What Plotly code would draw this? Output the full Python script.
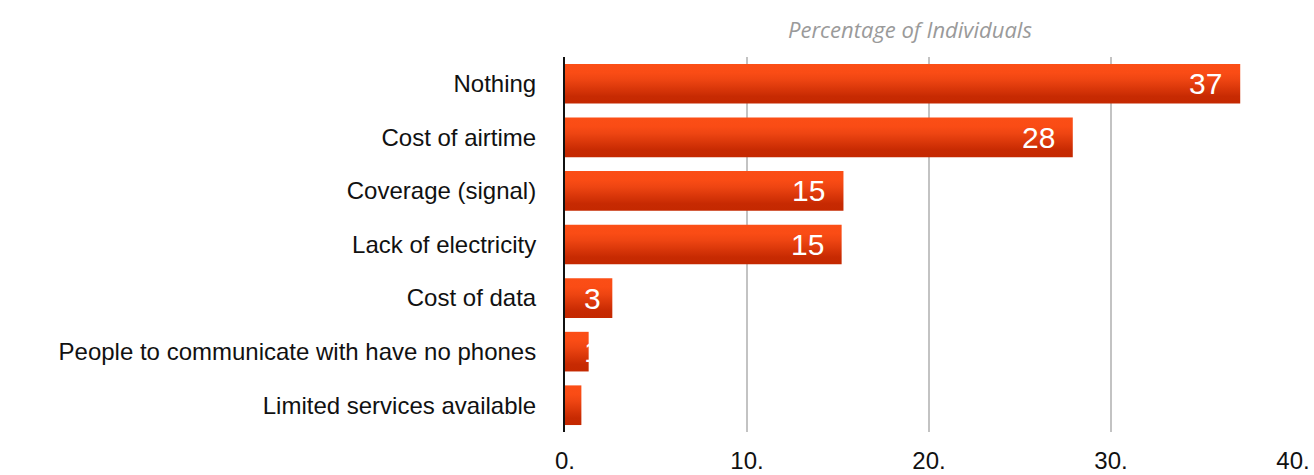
import plotly.graph_objects as go

# Survey: main barrier to using a mobile phone
categories = [
    "Nothing",
    "Cost of airtime",
    "Coverage (signal)",
    "Lack of electricity",
    "Cost of data",
    "People to communicate with have no phones",
    "Limited services available",
]
values = [37.1, 27.9, 15.3, 15.2, 2.6, 1.3, 0.9]
x_ticks = [0, 10, 20, 30, 40]
x_tick_labels = ["0.", "10.", "20.", "30.", "40."]
axis_title = "Percentage of Individuals"

n = len(categories)
half = 0.37  # half of the bar thickness, in category units
bar_scale = [[0.0, "#c42800"], [0.18, "#c72a02"], [0.6, "#ee4512"],
             [0.78, "#fa4c15"], [1.0, "#fb4e16"]]

W, H = 1314, 475
M_L, M_R, M_T, M_B = 565, 21, 57, 43

fig = go.Figure()
for i, (cat, v) in enumerate(zip(categories, values)):
    yc = n - 1 - i
    fig.add_trace(go.Scatter(
        x=[0, v, v, 0, 0],
        y=[yc - half, yc - half, yc + half, yc + half, yc - half],
        mode="lines",
        line=dict(width=0, color="rgba(0,0,0,0)"),
        fill="toself",
        fillgradient=dict(type="vertical", colorscale=bar_scale),
        hoverinfo="text",
        text=f"{cat}: {v:.0f}",
        showlegend=False,
    ))
    # value label inside the bar end; short bars keep it near the axis
    if v >= 4:
        ann = dict(x=v, xanchor="right", xshift=-16)
    else:
        ann = dict(x=0, xanchor="left", xshift=17)
    fig.add_annotation(
        y=yc, yanchor="middle", text=f"{v:.0f}", showarrow=False,
        font=dict(family="Liberation Sans, Arial", size=30, color="white"),
        **ann,
    )

# axis caption above the plot area, centred around x = 910 px
fig.add_annotation(
    x=(910 - M_L) / (W - M_L - M_R), xref="paper", y=1, yref="paper",
    yanchor="bottom", yshift=11,
    text=f"<i>{axis_title}</i>", showarrow=False,
    font=dict(family="Open Sans", size=22, color="#9a9a9a"),
)

fig.update_layout(
    width=W, height=H,
    margin=dict(l=M_L, r=M_R, t=M_T, b=M_B),
    paper_bgcolor="white", plot_bgcolor="white",
    font=dict(family="Liberation Sans, Arial", color="#111111"),
    xaxis=dict(
        range=[0, 40], tickvals=x_ticks, ticktext=x_tick_labels,
        showgrid=True, gridcolor="#c3c3c3", gridwidth=2,
        zeroline=False, showline=False, ticks="",
        ticklabelstandoff=12,
        tickfont=dict(size=24, color="#111111"),
        automargin=False, fixedrange=True,
    ),
    yaxis=dict(
        range=[-0.5, n - 0.5],
        tickvals=list(range(n)),
        ticktext=categories[::-1],
        showgrid=False, zeroline=False,
        showline=True, linecolor="#111111", linewidth=2,
        ticks="", ticklabelstandoff=22,
        tickfont=dict(size=24, color="#111111"),
        automargin=False, fixedrange=True,
    ),
)

fig.write_html("out.html")
